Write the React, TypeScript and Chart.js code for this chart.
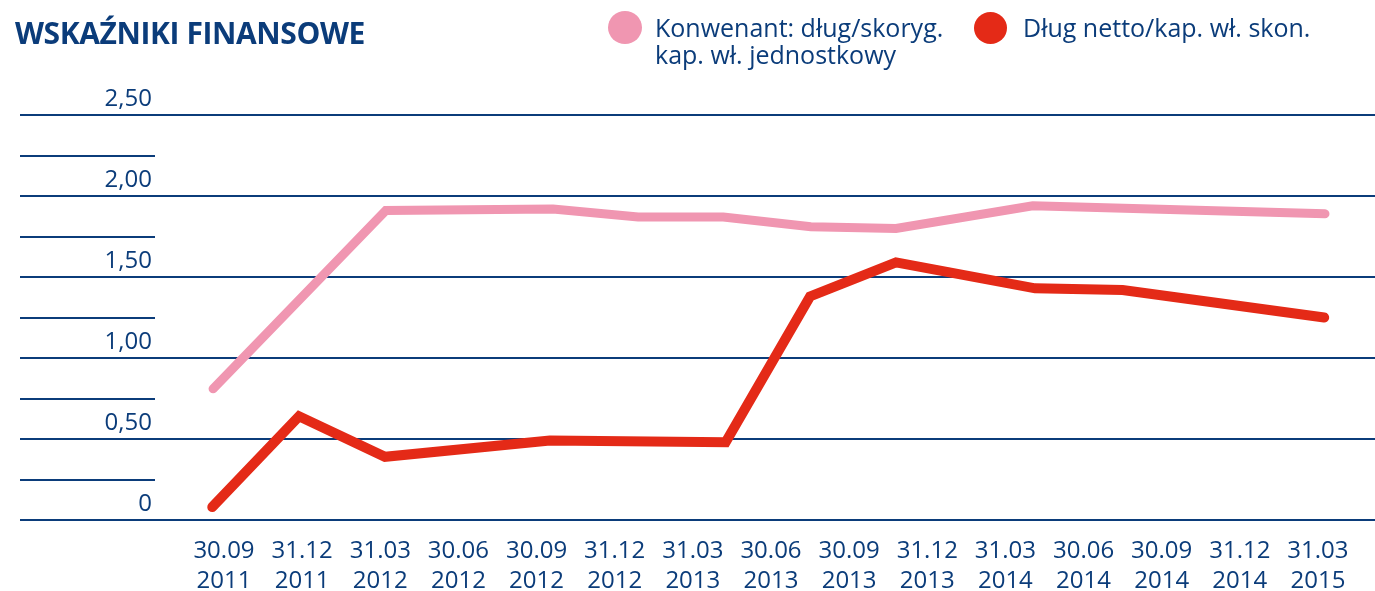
import React, { useEffect, useRef } from "react";
import { Chart, registerables } from "chart.js";

Chart.register(...registerables);

const labelDays = ["30.09", "31.12", "31.03", "30.06", "30.09", "31.12", "31.03", "30.06", "30.09", "31.12", "31.03", "30.06", "30.09", "31.12", "31.03"];
const labelYears = ["2011", "2011", "2012", "2012", "2012", "2012", "2013", "2013", "2013", "2013", "2014", "2014", "2014", "2014", "2015"];

// positions of vertices, in units of the category labels
const pinkX = [-0.14, 2.07, 4.21, 5.3, 6.39, 7.51, 8.6, 10.35, 14.09];
const pinkY = [0.81, 1.91, 1.92, 1.87, 1.87, 1.81, 1.8, 1.94, 1.89];
const redX = [-0.15, 0.96, 2.06, 4.17, 6.42, 7.5, 8.6, 10.38, 11.5, 14.08];
const redY = [0.08, 0.64, 0.39, 0.49, 0.48, 1.38, 1.59, 1.43, 1.42, 1.25];

const yTicks = [0, 0.25, 0.5, 0.75, 1, 1.25, 1.5, 1.75, 2, 2.25, 2.5];

const titleText = "WSKAŹNIKI FINANSOWE";
const legendPink = ["Konwenant: dług/skoryg.", "kap. wł. jednostkowy"];
const legendRed = ["Dług netto/kap. wł. skon."];

const NAVY = "#0b3c7a";
const PINK = "#f096b1";
const RED = "#e42a17";
const FONT = "'Open Sans', 'Noto Sans', sans-serif";

export default function App() {
  const ref = useRef<HTMLCanvasElement | null>(null);

  useEffect(() => {
    if (!ref.current) return;
    const chart = new Chart(ref.current, {
      type: "line",
      data: {
        datasets: [
          {
            label: legendPink.join(" "),
            data: pinkX.map((x, i) => ({ x, y: pinkY[i] })),
            borderColor: PINK,
            borderWidth: 9,
            borderCapStyle: "round",
            borderJoinStyle: "miter",
            pointRadius: 0,
            tension: 0,
          },
          {
            label: legendRed.join(" "),
            data: redX.map((x, i) => ({ x, y: redY[i] })),
            borderColor: RED,
            borderWidth: 10,
            borderCapStyle: "round",
            borderJoinStyle: "miter",
            pointRadius: 0,
            tension: 0,
          },
        ],
      },
      options: {
        animation: false,
        responsive: false,
        layout: { padding: { left: 20, top: 115, right: 0, bottom: 0 } },
        plugins: {
          legend: { display: false },
          tooltip: { enabled: false },
          title: { display: false },
        },
        scales: {
          x: {
            type: "linear",
            min: -0.883,
            max: 14.73,
            afterBuildTicks: (scale: any) => {
              scale.ticks = labelDays.map((_, i) => ({ value: i }));
            },
            afterFit: (scale: any) => {
              scale.height = 71;
            },
            grid: { display: false, drawTicks: false },
            border: { display: false },
            ticks: {
              autoSkip: false,
              maxRotation: 0,
              padding: 16,
              color: NAVY,
              font: { family: FONT, size: 24, lineHeight: 1.25 },
              callback: (v: any) => {
                const i = Math.round(Number(v));
                return [labelDays[i], labelYears[i]];
              },
            },
          },
          y: {
            type: "linear",
            min: 0,
            max: 2.5,
            afterBuildTicks: (scale: any) => {
              scale.ticks = yTicks.map((v) => ({ value: v }));
            },
            afterFit: (scale: any) => {
              scale.width = 135;
            },
            border: { display: false },
            grid: {
              drawOnChartArea: true,
              drawTicks: true,
              tickLength: 135,
              lineWidth: 2,
              color: (ctx: any) =>
                ctx.tick && Math.abs(ctx.tick.value * 2 - Math.round(ctx.tick.value * 2)) < 1e-6
                  ? NAVY
                  : "rgba(0,0,0,0)",
              tickColor: NAVY,
              tickWidth: 2,
            },
            ticks: {
              autoSkip: false,
              padding: -132,
              labelOffset: -16,
              color: NAVY,
              font: { family: FONT, size: 24 },
              callback: (v: any) => {
                const n = Number(v);
                if (Math.abs(n * 2 - Math.round(n * 2)) > 1e-6) return "";
                if (n === 0) return "0";
                return n.toFixed(2).replace(".", ",");
              },
            },
          },
        },
      },
    });
    return () => chart.destroy();
  }, []);

  const textStyle: React.CSSProperties = {
    position: "absolute",
    fontFamily: FONT,
    fontSize: 25,
    lineHeight: "27px",
    color: NAVY,
    whiteSpace: "nowrap",
  };

  return (
    <div style={{ position: "absolute", left: 0, top: 0, width: 1375, height: 591, background: "#fff" }}>
      <canvas ref={ref} width={1375} height={591} style={{ display: "block", position: "absolute", left: 0, top: 0 }} />
      <div
        style={{
          position: "absolute",
          left: 15,
          top: 18,
          fontFamily: FONT,
          fontWeight: 700,
          fontSize: 30,
          lineHeight: "30px",
          letterSpacing: "-0.4px",
          color: NAVY,
          whiteSpace: "nowrap",
        }}
      >
        {titleText}
      </div>
      <div style={{ position: "absolute", left: 608, top: 11, width: 34, height: 33, borderRadius: "50%", background: PINK }} />
      <div style={{ ...textStyle, left: 655, top: 14 }}>
        {legendPink.map((t, i) => (
          <div key={i}>{t}</div>
        ))}
      </div>
      <div style={{ position: "absolute", left: 974, top: 12, width: 33, height: 32, borderRadius: "50%", background: RED }} />
      <div style={{ ...textStyle, left: 1023, top: 14 }}>
        {legendRed.map((t, i) => (
          <div key={i}>{t}</div>
        ))}
      </div>
    </div>
  );
}
